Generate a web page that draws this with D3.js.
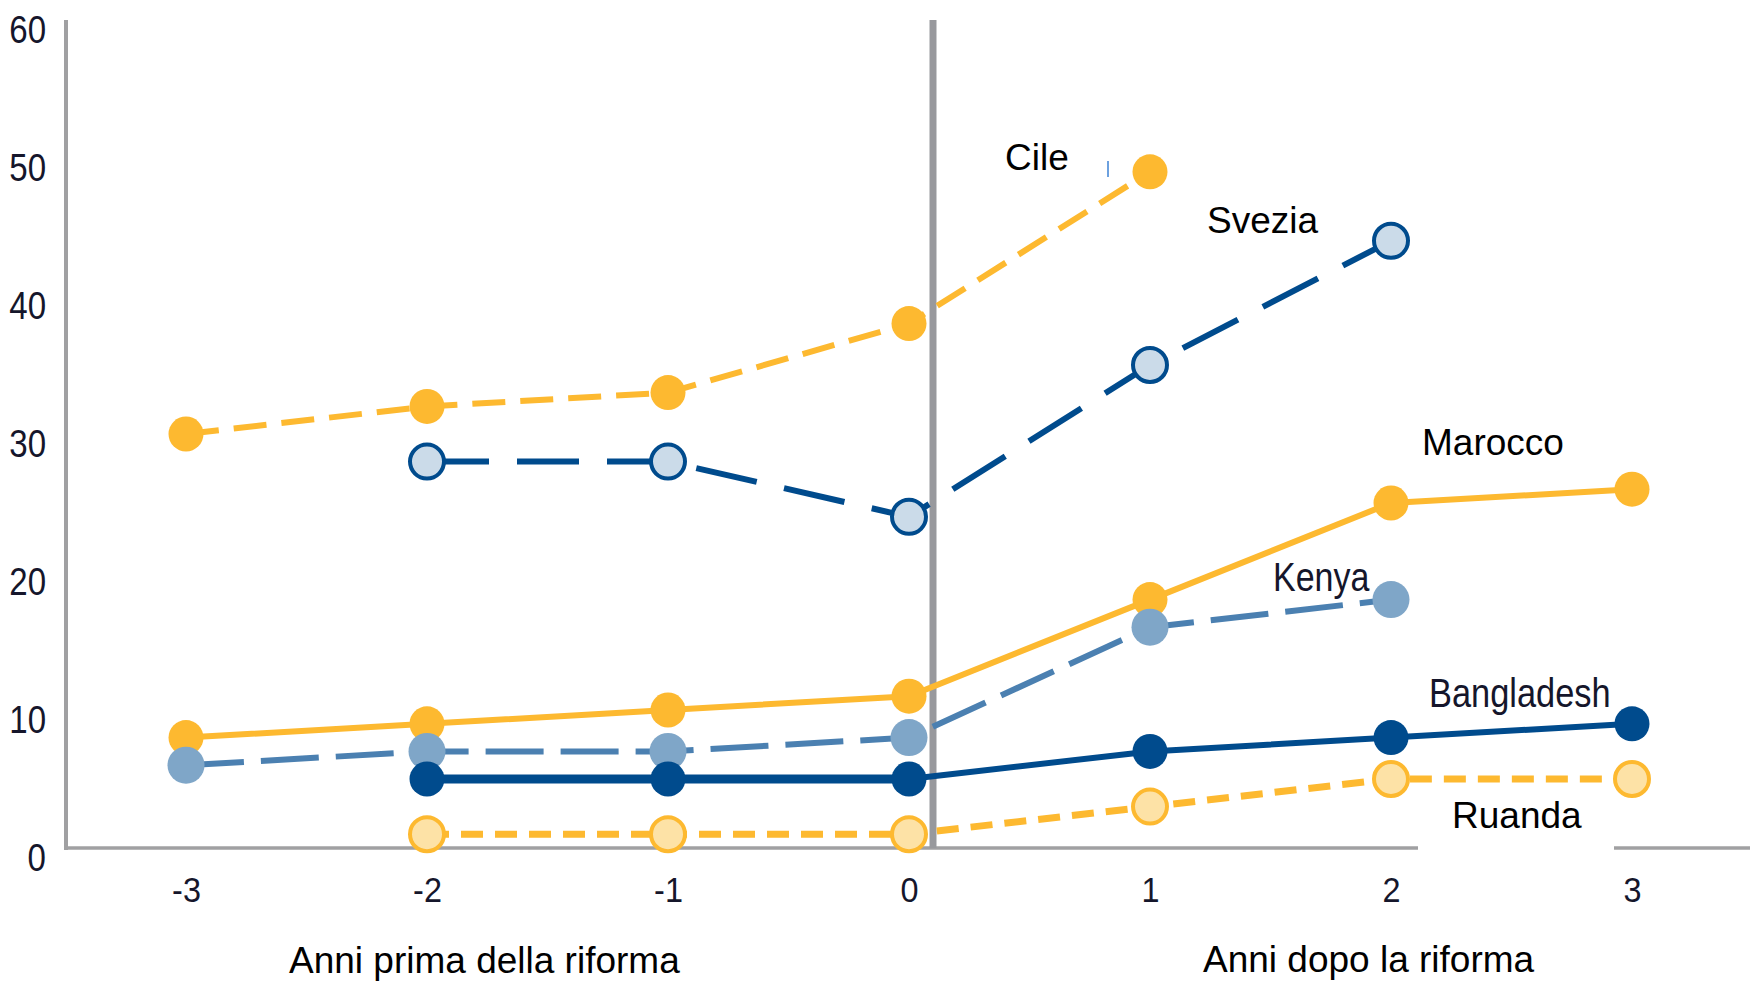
<!DOCTYPE html>
<html>
<head>
<meta charset="utf-8">
<script src="https://cdn.jsdelivr.net/npm/d3@7"></script>
<style>
  html, body { margin: 0; padding: 0; background: #ffffff; }
  svg { display: block; }
</style>
</head>
<body>
<svg id="chart" width="1761" height="981"></svg>
<script>
// ---------- DATA ----------
const years = [-3, -2, -1, 0, 1, 2, 3];
const yTicks = [0, 10, 20, 30, 40, 50, 60];
const xTickLabels = ["-3", "-2", "-1", "0", "1", "2", "3"];

const cileYears = [-3, -2, -1, 0, 1];
const cileValues = [30, 32, 33, 38, 49];

const sveziaYears = [-2, -1, 0, 1, 2];
const sveziaValues = [28, 28, 24, 35, 44];

const maroccoYears = [-3, -2, -1, 0, 1, 2, 3];
const maroccoValues = [8, 9, 10, 11, 18, 25, 26];

const kenyaYears = [-3, -2, -1, 0, 1, 2];
const kenyaValues = [6, 7, 7, 8, 16, 18];

const bangladeshYears = [-2, -1, 0, 1, 2, 3];
const bangladeshValues = [5, 5, 5, 7, 8, 9];

const ruandaYears = [-2, -1, 0, 1, 2, 3];
const ruandaValues = [1, 1, 1, 3, 5, 5];

const axisTitleBefore = "Anni prima della riforma";
const axisTitleAfter = "Anni dopo la riforma";

// ---------- LAYOUT ----------
const svg = d3.select("#chart");
const x = d3.scaleLinear().domain([-3, 3]).range([186, 1632]);
const y = d3.scaleLinear().domain([0, 60]).range([848, 20]);

const YELLOW = "#FDB930";
const DARK = "#004B8D";
const KENYA_LINE = "#4B80B1";
const KENYA_FILL = "#7FA6C8";
const SVEZIA_FILL = "#CBDBE9";
const RUANDA_FILL = "#FDE2A6";
const AXIS_GREY = "#A0A0A2";
const TEXT_DARK = "#15162b";
const regular = "'Liberation Sans', Arial, sans-serif";
const NARROW = 0.87; // horizontal compression used to imitate the condensed face

// axes lines
const axisLeftX = 66;
const axisRightX = 1750;
svg.append("line")
  .attr("x1", axisLeftX).attr("x2", axisLeftX)
  .attr("y1", y(60)).attr("y2", y(0) + 2)
  .attr("stroke", AXIS_GREY).attr("stroke-width", 4);
svg.append("line")
  .attr("x1", axisLeftX - 2).attr("x2", axisRightX)
  .attr("y1", y(0)).attr("y2", y(0))
  .attr("stroke", AXIS_GREY).attr("stroke-width", 3.5);

// reform divider
svg.append("line")
  .attr("x1", 933).attr("x2", 933)
  .attr("y1", y(60)).attr("y2", y(0))
  .attr("stroke", "#98999D").attr("stroke-width", 7);

// y-axis tick labels
const yAxis = d3.axisLeft(y).tickValues(yTicks).tickSize(0).tickPadding(20).tickFormat(d3.format("d"));
const gy = svg.append("g").attr("transform", `translate(${axisLeftX},0)`).call(yAxis);
gy.select(".domain").remove();
gy.selectAll("text")
  .attr("font-family", regular).attr("font-size", 38).attr("fill", TEXT_DARK)
  .attr("transform", `scale(${NARROW},1)`)
  .attr("x", -20 / NARROW)
  .attr("dy", "0.32em").attr("y", 10);

// x-axis tick labels
const xAxis = d3.axisBottom(x).tickValues(years).tickSize(0).tickPadding(0)
  .tickFormat((d, i) => xTickLabels[i]);
const gx = svg.append("g").attr("transform", `translate(0,${y(0)})`).call(xAxis);
gx.select(".domain").remove();
gx.selectAll("text")
  .attr("font-family", regular).attr("font-size", 36).attr("fill", TEXT_DARK)
  .attr("transform", "scale(0.9,1)")
  .attr("dy", 0).attr("y", 54);

// axis titles
svg.append("text").text(axisTitleBefore)
  .attr("x", 289).attr("y", 973)
  .attr("font-family", regular).attr("font-size", 37).attr("fill", "#000");
svg.append("text").text(axisTitleAfter)
  .attr("x", 1203).attr("y", 972)
  .attr("font-family", regular).attr("font-size", 37).attr("fill", "#000");

// ---------- SERIES ----------
const series = [
  { name: "Cile", xs: cileYears, vs: cileValues, line: YELLOW, width: 6, preWidth: 6, dash: "33,15",
    fill: YELLOW, stroke: "none", sw: 0, r: 17.5 },
  { name: "Svezia", xs: sveziaYears, vs: sveziaValues, line: DARK, width: 6, preWidth: 6, dash: "62,28",
    fill: SVEZIA_FILL, stroke: DARK, sw: 4, r: 17 },
  { name: "Marocco", xs: maroccoYears, vs: maroccoValues, line: YELLOW, width: 6, preWidth: 6, dash: null,
    fill: YELLOW, stroke: "none", sw: 0, r: 17.5 },
  { name: "Kenya", xs: kenyaYears, vs: kenyaValues, line: KENYA_LINE, width: 6, preWidth: 6, dash: "58,17",
    fill: KENYA_FILL, stroke: "none", sw: 0, r: 18.5 },
  { name: "Bangladesh", xs: bangladeshYears, vs: bangladeshValues, line: DARK, width: 6, preWidth: 9, dash: null,
    fill: DARK, stroke: "none", sw: 0, r: 17.5 },
  { name: "Ruanda", xs: ruandaYears, vs: ruandaValues, line: YELLOW, width: 7, preWidth: 7, dash: "22,12",
    fill: RUANDA_FILL, stroke: YELLOW, sw: 4, r: 17 }
];

// white patch behind Ruanda label (covers axis line as in the original)
svg.append("rect").attr("x", 1418).attr("y", 790).attr("width", 196).attr("height", 62).attr("fill", "#fff");

const lineGen = d3.line().x(d => x(d[0])).y(d => y(d[1]));

series.forEach(s => {
  const pts = s.xs.map((xx, i) => [xx, s.vs[i]]);
  const g = svg.append("g").attr("class", "series");
  if (s.preWidth !== s.width) {
    g.append("path")
      .attr("d", lineGen(pts.filter(p => p[0] <= 0)))
      .attr("fill", "none").attr("stroke", s.line)
      .attr("stroke-width", s.preWidth);
  }
  g.append("path")
    .attr("d", lineGen(pts))
    .attr("fill", "none")
    .attr("stroke", s.line)
    .attr("stroke-width", s.width)
    .attr("stroke-dasharray", s.dash)
    .attr("stroke-linejoin", "round");
  g.selectAll("circle").data(pts).enter().append("circle")
    .attr("cx", d => x(d[0])).attr("cy", d => y(d[1]))
    .attr("r", s.r)
    .attr("fill", s.fill)
    .attr("stroke", s.stroke)
    .attr("stroke-width", s.sw);
});

// ---------- LABELS ----------
const labels = [
  { text: "Cile", x: 1005, y: 170, size: 37, sx: 1, color: "#000" },
  { text: "Svezia", x: 1207, y: 233, size: 37, sx: 1, color: "#000" },
  { text: "Marocco", x: 1422, y: 455, size: 37, sx: 1, color: "#000" },
  { text: "Kenya", x: 1273, y: 591, size: 40, sx: 0.85, color: TEXT_DARK },
  { text: "Bangladesh", x: 1429, y: 707, size: 40, sx: 0.86, color: TEXT_DARK },
  { text: "Ruanda", x: 1452, y: 828, size: 37, sx: 1, color: "#000" }
];
svg.selectAll("text.lbl").data(labels).enter().append("text")
  .attr("class", "lbl")
  .attr("transform", d => `translate(${d.x},${d.y}) scale(${d.sx},1)`)
  .attr("font-family", regular).attr("font-size", d => d.size)
  .attr("fill", d => d.color)
  .text(d => d.text);

// small stray mark near "Cile" present in the original
svg.append("line").attr("x1", 1108).attr("x2", 1108).attr("y1", 161).attr("y2", 177)
  .attr("stroke", "#3d82d4").attr("stroke-width", 1.5);
</script>
</body>
</html>
